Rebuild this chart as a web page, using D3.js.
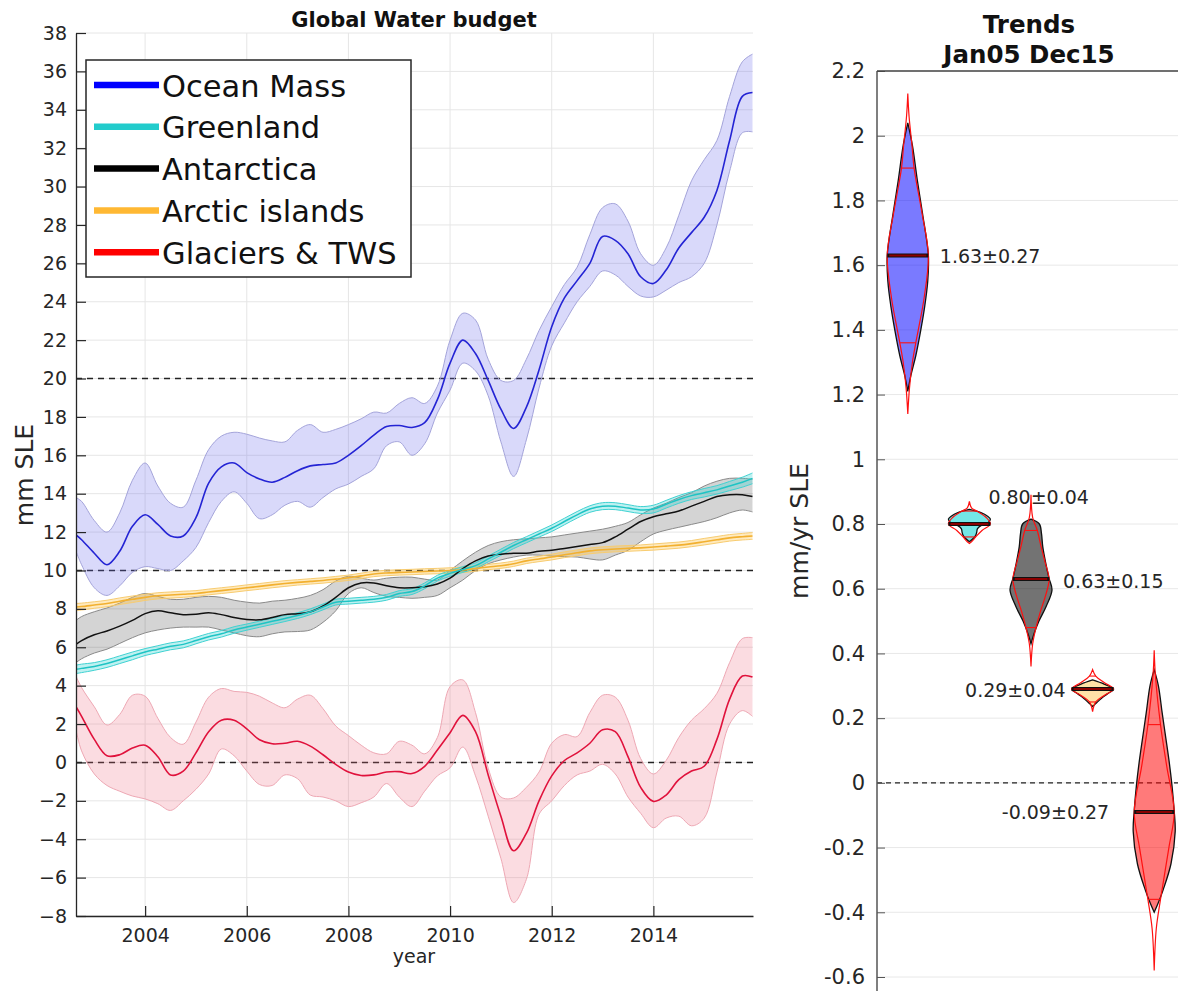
<!DOCTYPE html>
<html><head><meta charset="utf-8">
<script src="https://cdn.jsdelivr.net/npm/d3@7/dist/d3.min.js"></script>
<style>
body{margin:0;background:#fff}
svg{display:block}
text{font-family:"DejaVu Sans",sans-serif}
</style>
</head><body>
<svg id="chart" width="1178" height="991"></svg>
<script>
// ---------------- DATA ----------------
const years = [2002.64, 2002.75,
 2003.0,2003.25,2003.5,2003.75, 2004.0,2004.25,2004.5,2004.75, 2005.0,2005.25,2005.5,2005.75,
 2006.0,2006.25,2006.5,2006.75, 2007.0,2007.25,2007.5,2007.75, 2008.0,2008.25,2008.5,2008.75,
 2009.0,2009.25,2009.5,2009.75, 2010.0,2010.25,2010.5,2010.75, 2011.0,2011.25,2011.5,2011.75,
 2012.0,2012.25,2012.5,2012.75, 2013.0,2013.25,2013.5,2013.75, 2014.0,2014.25,2014.5,2014.75,
 2015.0,2015.25,2015.5,2015.75, 2015.95];

const oceanMean = [11.85, 11.6,
 10.9,10.3,11.0,12.3, 12.9,12.4,11.8,11.8, 12.75,14.55,15.4,15.6, 15.1,14.77,14.6,14.85,
 15.2,15.45,15.52,15.6, 16.0,16.5,17.05,17.5, 17.55,17.45,17.7,18.9, 20.8,22.0,21.3,19.9,
 18.4,17.4,18.5,20.45, 22.7,24.2,25.1,26.0, 27.4,27.2,26.5,25.3, 24.95,25.65,26.8,27.6,
 28.4,29.8,32.4,34.7, 34.9];
const oceanUpper = [13.8, 13.6,
 12.6,12.0,13.0,14.7, 15.6,14.4,13.5,13.3, 14.7,16.3,17.0,17.2, 17.1,16.9,16.75,16.7,
 17.3,17.6,17.2,17.35, 17.6,17.9,18.25,18.2, 18.7,19.0,18.7,19.6, 22.0,23.4,23.05,21.0,
 19.9,19.9,21.0,22.5, 23.75,24.9,25.8,27.5, 28.9,29.1,28.2,26.5, 25.9,26.8,28.5,30.3,
 31.4,32.4,34.7,36.5, 36.9];
const oceanLower = [11.0, 10.3,
 9.1,8.7,9.2,9.9, 10.2,10.1,10.0,10.5, 11.2,12.5,13.6,14.1, 13.5,12.7,12.9,13.4,
 13.6,13.3,13.8,14.25, 14.5,14.9,15.3,16.5, 16.7,16.0,16.6,18.2, 19.4,20.8,20.4,19.1,
 16.7,14.9,16.8,19.5, 21.7,22.9,24.0,24.8, 25.6,25.4,24.8,24.3, 24.25,24.6,25.0,25.3,
 26.0,28.0,30.8,32.8, 32.85];

const greenlandMean = [4.85, 4.9,
 5.0,5.15,5.35,5.55, 5.75,5.9,6.05,6.15, 6.35,6.55,6.7,6.9, 7.05,7.2,7.35,7.5,
 7.65,7.85,8.1,8.35, 8.4,8.45,8.5,8.6, 8.8,8.9,9.2,9.6, 9.85,10.05,10.25,10.6,
 10.95,11.3,11.6,11.9, 12.2,12.55,12.9,13.2, 13.35,13.35,13.25,13.15, 13.2,13.45,13.7,13.9,
 14.05,14.2,14.4,14.6, 14.8];
const greenlandErr = [0.22,0.22,
 0.2,0.2,0.2,0.2, 0.18,0.18,0.18,0.18, 0.17,0.17,0.17,0.17, 0.16,0.16,0.16,0.16,
 0.15,0.15,0.15,0.15, 0.15,0.15,0.15,0.15, 0.15,0.15,0.15,0.15, 0.15,0.15,0.15,0.15,
 0.16,0.16,0.16,0.16, 0.17,0.17,0.17,0.17, 0.18,0.18,0.18,0.18, 0.2,0.2,0.2,0.2,
 0.22,0.22,0.24,0.26, 0.28];

const antarcticaMean = [6.15, 6.35,
 6.65,6.85,7.1,7.4, 7.75,7.9,7.8,7.7, 7.72,7.8,7.7,7.55, 7.45,7.43,7.55,7.7,
 7.75,7.85,8.15,8.6, 9.1,9.35,9.35,9.2, 9.1,9.1,9.15,9.3, 9.6,10.1,10.5,10.75,
 10.85,10.9,10.9,11.0, 11.05,11.15,11.25,11.35, 11.45,11.75,12.15,12.55, 12.8,12.95,13.1,13.35,
 13.6,13.85,13.95,13.95, 13.85];
const antarcticaUpper = [7.4, 7.6,
 7.85,8.05,8.3,8.6, 8.8,8.65,8.5,8.5, 8.6,8.65,8.6,8.45, 8.35,8.3,8.4,8.45,
 8.55,8.7,9.0,9.45, 9.7,9.6,9.5,9.6, 9.65,9.65,9.55,9.5, 10.0,10.5,10.95,11.3,
 11.5,11.6,11.65,11.7, 11.75,11.85,11.95,12.05, 12.15,12.3,12.5,12.9, 13.25,13.5,13.8,14.05,
 14.4,14.65,14.8,14.8, 14.75];
const antarcticaLower = [5.2, 5.4,
 5.7,5.9,6.2,6.5, 6.75,6.9,7.0,7.05, 7.05,7.05,6.9,6.75, 6.6,6.55,6.7,6.8,
 6.82,6.9,7.3,7.9, 8.8,9.1,8.85,8.65, 8.6,8.55,8.6,8.7, 9.1,9.5,10.0,10.35,
 10.55,10.7,10.8,10.8, 10.75,10.72,10.7,10.6, 10.55,10.8,11.05,11.5, 11.9,12.1,12.25,12.4,
 12.55,12.75,13.0,13.15, 13.05];

const arcticMean = [8.1, 8.12,
 8.2,8.28,8.4,8.5, 8.6,8.68,8.72,8.76, 8.8,8.88,8.95,9.02, 9.1,9.17,9.25,9.32,
 9.38,9.43,9.48,9.55, 9.62,9.72,9.82,9.87, 9.9,9.92,9.95,9.97, 10.0,10.03,10.1,10.18,
 10.25,10.35,10.5,10.6, 10.7,10.82,10.92,11.02, 11.08,11.12,11.15,11.18, 11.22,11.27,11.32,11.4,
 11.5,11.6,11.7,11.76, 11.8];
const arcticErr = [0.18,0.18,
 0.17,0.17,0.17,0.17, 0.16,0.16,0.16,0.16, 0.15,0.15,0.15,0.15, 0.15,0.15,0.15,0.15,
 0.14,0.14,0.14,0.14, 0.14,0.14,0.14,0.14, 0.14,0.14,0.14,0.14, 0.14,0.14,0.14,0.14,
 0.14,0.14,0.14,0.14, 0.15,0.15,0.15,0.15, 0.15,0.15,0.15,0.15, 0.16,0.16,0.16,0.16,
 0.17,0.17,0.17,0.17, 0.18];

const glaciersMean = [2.9, 2.4,
 1.2,0.35,0.4,0.75, 0.9,0.3,-0.65,-0.45, 0.5,1.6,2.2,2.2, 1.75,1.18,0.97,1.0,
 1.1,0.85,0.4,-0.1, -0.5,-0.68,-0.65,-0.5, -0.48,-0.58,-0.2,0.65, 1.55,2.45,1.6,-0.65,
 -2.8,-4.6,-3.7,-2.0, -0.7,0.1,0.5,1.0, 1.7,1.6,0.3,-1.3, -2.03,-1.7,-0.9,-0.45,
 -0.2,1.2,3.3,4.5, 4.45];
const glaciersUpper = [4.5, 3.9,
 2.9,1.95,2.5,3.5, 3.45,2.3,1.3,0.95, 2.1,3.4,3.85,3.7, 3.65,3.45,3.1,2.85,
 3.3,3.5,2.8,1.9, 1.4,0.9,0.5,0.45, 1.1,0.9,0.45,1.3, 3.95,4.3,2.6,-0.3,
 -1.8,-1.85,-1.3,-0.5, 1.0,1.45,1.35,2.6, 3.5,3.4,2.2,0.2, -0.6,0.1,1.3,2.2,
 2.8,3.6,5.2,6.45, 6.5];
const glaciersLower = [1.7, 0.6,
 -0.6,-1.2,-1.5,-1.75, -1.9,-2.15,-2.5,-2.0, -1.4,-0.6,0.7,0.35, -0.45,-1.15,-1.2,-0.65,
 -0.85,-1.7,-1.8,-2.0, -2.3,-2.1,-1.8,-1.1, -1.8,-2.3,-1.5,-0.7, -0.28,0.8,-0.7,-2.8,
 -5.0,-7.3,-6.1,-2.7, -2.0,-1.2,-0.65,-0.45, -0.1,-0.6,-1.8,-2.65, -3.4,-2.9,-2.8,-3.3,
 -2.9,-0.5,2.0,2.7, 2.4];

const seriesNames = ["Ocean Mass", "Greenland", "Antarctica", "Arctic islands", "Glaciers & TWS"];
const legendColors = ["#0000ff", "#22cccc", "#000000", "#ffb833", "#ff0000"];
const yTicksLeft = [-8,-6,-4,-2,0,2,4,6,8,10,12,14,16,18,20,22,24,26,28,30,32,34,36,38];
const xTicksLeft = [2004, 2006, 2008, 2010, 2012, 2014];
const refLinesLeft = [0, 10, 20];

// Trends panel
const trendValues = [1.63, 0.80, 0.63, 0.29, -0.09];
const trendErrors = [0.27, 0.04, 0.15, 0.04, 0.27];
const trendLabels = ["1.63\u00b10.27", "0.80\u00b10.04", "0.63\u00b10.15", "0.29\u00b10.04", "-0.09\u00b10.27"];
const yTicksRight = [-0.6,-0.4,-0.2,0,0.2,0.4,0.6,0.8,1,1.2,1.4,1.6,1.8,2,2.2];
// violin outlines: [value, relative half-width]
const oceanViolin = [[2.04,0],[1.97,0.22],[1.86,0.46],[1.76,0.7],[1.63,0.98],[1.55,0.95],[1.47,0.8],[1.40,0.62],[1.32,0.38],[1.26,0.15],[1.21,0]];
const greenlandViolin = [[0.845,0],[0.835,0.55],[0.825,0.85],[0.815,1.0],[0.805,0.9],[0.795,0.55],[0.785,0.38],[0.775,0.35],[0.765,0.3],[0.755,0.18],[0.745,0]];
const antarcticaViolin = [[0.815,0],[0.80,0.4],[0.77,0.5],[0.73,0.56],[0.68,0.7],[0.632,0.86],[0.596,1.0],[0.545,0.72],[0.50,0.38],[0.46,0.14],[0.43,0]];
const arcticViolin = [[0.318,0],[0.305,0.55],[0.29,1.0],[0.275,0.7],[0.26,0.4],[0.245,0.15],[0.236,0]];
const glaciersViolin = [[0.35,0],[0.30,0.2],[0.216,0.38],[0.14,0.55],[0.062,0.72],[-0.01,0.85],[-0.085,0.95],[-0.15,1.0],[-0.25,0.8],[-0.33,0.43],[-0.37,0.2],[-0.40,0]];
// red (normal-fit) overlays
const oceanFit = [[2.13,0],[2.06,0.06],[1.97,0.2],[1.90,0.3],[1.76,0.68],[1.63,0.98],[1.50,0.78],[1.40,0.5],[1.36,0.38],[1.30,0.22],[1.22,0.08],[1.14,0]];
const greenlandFit = [[0.87,0],[0.85,0.1],[0.84,0.35],[0.82,0.8],[0.80,1.0],[0.78,0.6],[0.76,0.3],[0.745,0.1],[0.74,0]];
const antarcticaFit = [[0.89,0],[0.82,0.08],[0.78,0.3],[0.73,0.48],[0.68,0.68],[0.63,0.86],[0.58,0.7],[0.53,0.45],[0.48,0.24],[0.43,0.08],[0.36,0]];
const arcticFit = [[0.35,0],[0.33,0.15],[0.31,0.55],[0.29,1.0],[0.27,0.55],[0.25,0.15],[0.22,0]];
const glaciersFit = [[0.41,0],[0.33,0.06],[0.18,0.3],[0.05,0.6],[-0.09,0.95],[-0.2,0.7],[-0.36,0.3],[-0.45,0.1],[-0.58,0]];

// ---------------- DRAW ----------------
const svg = d3.select("#chart");
const FONT = '"DejaVu Sans", sans-serif';
const TXT = "#262626";

// ---- Left panel ----
const xL = d3.scaleLinear().domain([2002.64, 2015.96]).range([76, 753]);
const yL = d3.scaleLinear().domain([-8, 38]).range([916, 33]);

const left = svg.append("g");
left.append("clipPath").attr("id", "clipL").append("rect")
  .attr("x", 76).attr("y", 33).attr("width", 677).attr("height", 883);

// grid
left.append("g").selectAll("line").data(yTicksLeft).join("line")
  .attr("x1", 76).attr("x2", 753).attr("y1", d => yL(d)).attr("y2", d => yL(d))
  .attr("stroke", "#e6e6e6").attr("stroke-width", 1);
left.append("g").selectAll("line").data(xTicksLeft).join("line")
  .attr("x1", d => xL(d)).attr("x2", d => xL(d)).attr("y1", 33).attr("y2", 916)
  .attr("stroke", "#e6e6e6").attr("stroke-width", 1);

// dashed reference lines
left.append("g").selectAll("line").data(refLinesLeft).join("line")
  .attr("x1", 76).attr("x2", 753).attr("y1", d => yL(d)).attr("y2", d => yL(d))
  .attr("stroke", "#222").attr("stroke-width", 1.6).attr("stroke-dasharray", "6,5");

const plot = left.append("g").attr("clip-path", "url(#clipL)");
const idx = d3.range(years.length);
function band(lo, hi, fill, edge) {
  const area = d3.area().x(i => xL(years[i])).y0(i => yL(lo[i])).y1(i => yL(hi[i])).curve(d3.curveCatmullRom);
  const ln = arr => d3.line().x(i => xL(years[i])).y(i => yL(arr[i])).curve(d3.curveCatmullRom);
  plot.append("path").attr("d", area(idx)).attr("fill", fill).attr("stroke", "none");
  plot.append("path").attr("d", ln(lo)(idx)).attr("fill", "none").attr("stroke", edge).attr("stroke-width", 1);
  plot.append("path").attr("d", ln(hi)(idx)).attr("fill", "none").attr("stroke", edge).attr("stroke-width", 1);
}
function meanLine(arr, color, w) {
  const ln = d3.line().x(i => xL(years[i])).y(i => yL(arr[i])).curve(d3.curveCatmullRom);
  plot.append("path").attr("d", ln(idx)).attr("fill", "none").attr("stroke", color).attr("stroke-width", w);
}
const gLo = greenlandMean.map((v, i) => v - greenlandErr[i]);
const gHi = greenlandMean.map((v, i) => v + greenlandErr[i]);
const aLo = arcticMean.map((v, i) => v - arcticErr[i]);
const aHi = arcticMean.map((v, i) => v + arcticErr[i]);

band(oceanLower, oceanUpper, "rgba(110,110,235,0.26)", "#a4a4da");
band(glaciersLower, glaciersUpper, "rgba(240,110,130,0.24)", "#eea8b4");
band(antarcticaLower, antarcticaUpper, "rgba(0,0,0,0.17)", "#8a8a8a");
band(aLo, aHi, "rgba(255,195,70,0.35)", "#f8cc70");
band(gLo, gHi, "rgba(40,210,210,0.3)", "#3fd2d2");

meanLine(oceanMean, "#2424d4", 1.6);
meanLine(glaciersMean, "#e0123c", 1.6);
meanLine(arcticMean, "#f2b030", 1.6);
meanLine(antarcticaMean, "#111111", 1.5);
meanLine(greenlandMean, "#1ec4c4", 1.5);

// axes
const axL = left.append("g").attr("transform", "translate(76,0)")
  .call(d3.axisLeft(yL).tickValues(yTicksLeft).tickSize(-10).tickSizeOuter(0).tickPadding(9));
const axB = left.append("g").attr("transform", "translate(0,916)")
  .call(d3.axisBottom(xL).tickValues(xTicksLeft).tickFormat(d3.format("d")).tickSize(-10).tickSizeOuter(0).tickPadding(13));
[axL, axB].forEach(a => {
  a.attr("font-family", FONT).attr("font-size", 19).attr("color", TXT);
  a.select(".domain").attr("stroke", "#262626").attr("stroke-width", 1.3);
  a.selectAll(".tick line").attr("stroke", "#262626").attr("stroke-width", 1.2);
  a.selectAll(".tick text").attr("fill", TXT);
});

// titles / labels
left.append("text").attr("x", 414).attr("y", 27).attr("text-anchor", "middle")
  .attr("font-size", 21).attr("font-weight", "bold").attr("fill", "#111").text("Global Water budget");
left.append("text").attr("x", 414).attr("y", 963).attr("text-anchor", "middle")
  .attr("font-size", 19).attr("fill", TXT).text("year");
left.append("text").attr("transform", "translate(33,475) rotate(-90)").attr("text-anchor", "middle")
  .attr("font-size", 25).attr("fill", TXT).text("mm SLE");

// legend
const leg = left.append("g");
leg.append("rect").attr("x", 86).attr("y", 60).attr("width", 325).attr("height", 217)
  .attr("fill", "#fff").attr("stroke", "#262626").attr("stroke-width", 1.5);
seriesNames.forEach((name, i) => {
  const cy = 85 + i * 41.8;
  leg.append("line").attr("x1", 94).attr("x2", 159).attr("y1", cy).attr("y2", cy)
    .attr("stroke", legendColors[i]).attr("stroke-width", 6.5);
  leg.append("text").attr("x", 162).attr("y", cy + 11.5).attr("font-size", 30.5)
    .attr("fill", "#111").text(name);
});

// ---- Right panel ----
const xR = d3.scaleLinear().domain([0.5, 5.5]).range([877, 1185]);
const yR = d3.scaleLinear().domain([-0.6, 2.2]).range([977, 71]);
const right = svg.append("g");

right.append("g").selectAll("line").data(yTicksRight).join("line")
  .attr("x1", 877).attr("x2", 1178).attr("y1", d => yR(d)).attr("y2", d => yR(d))
  .attr("stroke", "#e8e8e8").attr("stroke-width", 1);
right.append("line").attr("x1", 877).attr("x2", 1178).attr("y1", yR(0)).attr("y2", yR(0))
  .attr("stroke", "#222").attr("stroke-width", 1.3).attr("stroke-dasharray", "5,4");

const violins = [oceanViolin, greenlandViolin, antarcticaViolin, arcticViolin, glaciersViolin];
const fits = [oceanFit, greenlandFit, antarcticaFit, arcticFit, glaciersFit];
const fillColors = ["rgba(0,0,255,0.52)", "rgba(0,210,210,0.55)", "rgba(0,0,0,0.55)", "rgba(255,190,60,0.45)", "rgba(255,0,0,0.52)"];
const HALF = 21;
function widthAt(profile, v) {
  for (let k = 0; k < profile.length - 1; k++) {
    const a = profile[k], b = profile[k + 1];
    if ((v <= a[0] && v >= b[0])) {
      const t = (a[0] - v) / (a[0] - b[0]);
      return a[1] + t * (b[1] - a[1]);
    }
  }
  return 0;
}
violins.forEach((prof, i) => {
  const cx = xR(i + 1);
  const area = d3.area().y(d => yR(d[0])).x0(d => cx - d[1] * HALF).x1(d => cx + d[1] * HALF).curve(d3.curveCatmullRom);
  right.append("path").attr("d", area(prof)).attr("fill", fillColors[i])
    .attr("stroke", "#111").attr("stroke-width", 1.3);
  const fit = fits[i];
  const fa = d3.area().y(d => yR(d[0])).x0(d => cx - d[1] * HALF).x1(d => cx + d[1] * HALF).curve(d3.curveCatmullRom);
  right.append("path").attr("d", fa(fit)).attr("fill", "none").attr("stroke", "#ff1010").attr("stroke-width", 1.2);
  [trendValues[i] + trendErrors[i], trendValues[i] - trendErrors[i]].forEach(v => {
    const w = Math.max(widthAt(fit, v), 0.05) * HALF;
    right.append("line").attr("x1", cx - w).attr("x2", cx + w).attr("y1", yR(v)).attr("y2", yR(v))
      .attr("stroke", "#ff1010").attr("stroke-width", 1.1);
  });
  const wm = Math.max(widthAt(prof, trendValues[i]), widthAt(fit, trendValues[i])) * HALF;
  right.append("line").attr("x1", cx - wm).attr("x2", cx + wm).attr("y1", yR(trendValues[i])).attr("y2", yR(trendValues[i]))
    .attr("stroke", "#111").attr("stroke-width", 4);
  right.append("line").attr("x1", cx - wm + 2).attr("x2", cx + wm - 2).attr("y1", yR(trendValues[i])).attr("y2", yR(trendValues[i]))
    .attr("stroke", "#8b0000").attr("stroke-width", 2);
});

// trend labels (placement per violin)
const labelPlace = [
  {anchor: "start", dx: 32, dy: 8},
  {anchor: "start", dx: 19, dy: -20},
  {anchor: "start", dx: 32, dy: 9},
  {anchor: "end", dx: -27, dy: 8},
  {anchor: "end", dx: -45, dy: 7}
];
trendLabels.forEach((t, i) => {
  const p = labelPlace[i];
  right.append("text").attr("x", xR(i + 1) + p.dx).attr("y", yR(trendValues[i]) + p.dy)
    .attr("text-anchor", p.anchor).attr("font-size", 19).attr("fill", TXT).text(t);
});

// axes right
const axR = right.append("g").attr("transform", "translate(877,0)")
  .call(d3.axisLeft(yR).tickValues(yTicksRight).tickFormat(d => String(+d.toFixed(1))).tickSize(-8).tickSizeOuter(0).tickPadding(12));
axR.attr("font-family", FONT).attr("font-size", 21).attr("color", TXT);
axR.select(".domain").remove();
axR.selectAll(".tick line").attr("stroke", "#555").attr("stroke-width", 1);
axR.selectAll(".tick text").attr("fill", TXT);
right.append("line").attr("x1", 877).attr("x2", 877).attr("y1", 71).attr("y2", 991)
  .attr("stroke", "#555").attr("stroke-width", 1.5);
right.append("line").attr("x1", 877).attr("x2", 1178).attr("y1", 71).attr("y2", 71)
  .attr("stroke", "#444").attr("stroke-width", 1.5);

right.append("text").attr("x", 1029).attr("y", 33).attr("text-anchor", "middle")
  .attr("font-size", 24.5).attr("font-weight", "bold").attr("fill", "#111").text("Trends");
right.append("text").attr("x", 1029).attr("y", 63).attr("text-anchor", "middle")
  .attr("font-size", 24.5).attr("font-weight", "bold").attr("fill", "#111").text("Jan05 Dec15");
right.append("text").attr("transform", "translate(808,531) rotate(-90)").attr("text-anchor", "middle")
  .attr("font-size", 25).attr("fill", TXT).text("mm/yr SLE");
</script>
</body></html>
